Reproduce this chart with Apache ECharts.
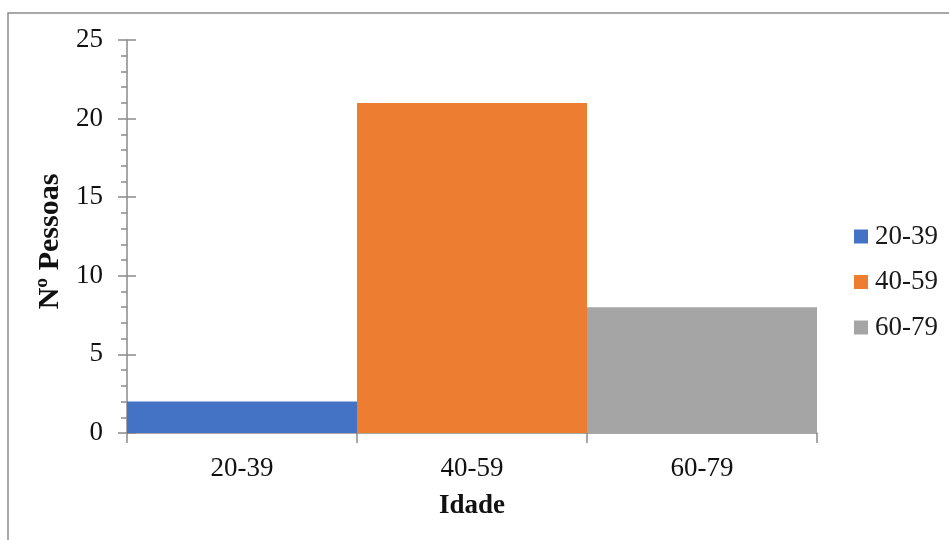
<!DOCTYPE html>
<html>
<head>
<meta charset="utf-8">
<script src="https://cdn.jsdelivr.net/npm/echarts@6/dist/echarts.min.js"></script>
<style>
  html, body { margin: 0; padding: 0; background: #fff; }
  #chart { width: 949px; height: 540px; }
</style>
</head>
<body>
<div id="chart"></div>
<script>
// Age groups and number of people in each
const categories = ['20-39', '40-59', '60-79'];
const counts = [2, 21, 8];
const colors = ['#4472C4', '#ED7D31', '#A5A5A5'];
const yTicks = { min: 0, max: 25, interval: 5 };

const FONT = '"Liberation Serif", "Times New Roman", serif';
const AXIS_GRAY = '#8a8a8a';

const chart = echarts.init(document.getElementById('chart'), null, { renderer: 'canvas' });

// Each age group is its own series so it gets its own legend entry;
// stacking keeps every bar at full category width.
const series = categories.map((name, i) => ({
  name: name,
  type: 'bar',
  stack: 'groups',
  barWidth: '100%',
  yAxisIndex: 0,
  itemStyle: { color: colors[i] },
  data: categories.map((c, j) => (j === i ? counts[i] : '-'))
}));

chart.setOption({
  animation: false,
  backgroundColor: '#fff',
  grid: { left: 127, right: 132, top: 40, bottom: 107 },
  graphic: [{
    type: 'rect',
    shape: { x: 8, y: 13, width: 1000, height: 600 },
    style: { fill: 'none', stroke: '#8c8c8c', lineWidth: 1.5 },
    silent: true,
    z: -10
  }],
  legend: {
    orient: 'vertical',
    left: 849,
    top: 218,
    itemWidth: 14,
    itemHeight: 14,
    itemGap: 18.5,
    icon: 'rect',
    textStyle: { fontFamily: FONT, fontSize: 27, color: '#1a1a1a', padding: [0, 0, 0, 2] },
    data: categories
  },
  xAxis: {
    type: 'category',
    data: categories,
    name: 'Idade',
    nameLocation: 'middle',
    nameGap: 60,
    nameTextStyle: { fontFamily: FONT, fontSize: 27, fontWeight: 'bold', color: '#111' },
    axisLine: { lineStyle: { color: AXIS_GRAY, width: 1.5 } },
    axisTick: { show: true, alignWithLabel: false, length: 10, lineStyle: { color: AXIS_GRAY, width: 1.5 } },
    axisLabel: { fontFamily: FONT, fontSize: 27, color: '#111', margin: 22 },
    splitLine: { show: false }
  },
  yAxis: [{
    type: 'value',
    min: yTicks.min,
    max: yTicks.max,
    interval: yTicks.interval,
    name: 'Nº Pessoas',
    nameLocation: 'middle',
    nameGap: 57,
    nameTextStyle: { fontFamily: FONT, fontSize: 30, fontWeight: 'bold', color: '#111', padding: [0, 10, 0, 0] },
    axisLine: { show: true, lineStyle: { color: AXIS_GRAY, width: 1.5 } },
    axisTick: { show: true, length: 9, lineStyle: { color: AXIS_GRAY, width: 1.5 } },
    minorTick: { show: true, splitNumber: 5, length: 6, lineStyle: { color: AXIS_GRAY, width: 1.5 } },
    axisLabel: { fontFamily: FONT, fontSize: 27, color: '#111', margin: 24 },
    splitLine: { show: false },
    minorSplitLine: { show: false }
  }, {
    // inner half of the major ticks, so they cross the axis line
    type: 'value',
    position: 'left',
    min: yTicks.min,
    max: yTicks.max,
    interval: yTicks.interval,
    axisLine: { show: false },
    axisTick: { show: true, inside: true, length: 9, lineStyle: { color: AXIS_GRAY, width: 1.5 } },
    axisLabel: { show: false },
    splitLine: { show: false }
  }],
  series: series
});
</script>
</body>
</html>
